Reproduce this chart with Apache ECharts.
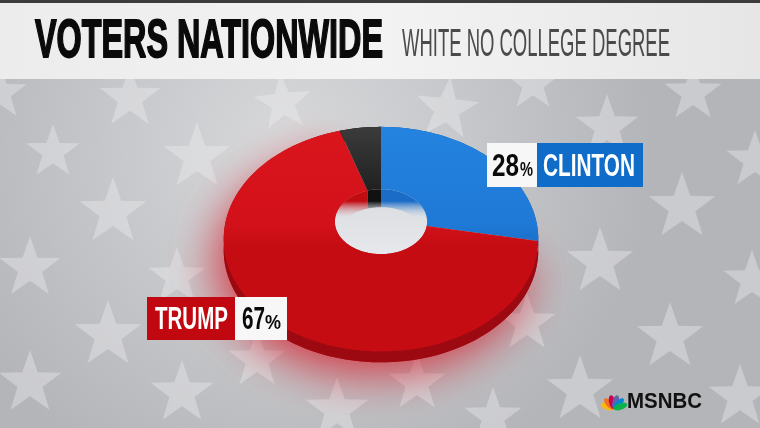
<!DOCTYPE html>
<html>
<head>
<meta charset="utf-8">
<script src="https://cdn.jsdelivr.net/npm/echarts@6.0.0/dist/echarts.min.js"></script>
<style>
html,body{margin:0;padding:0;background:#c6c7ca;}
#chart{width:760px;height:428px;}
</style>
</head>
<body>
<div id="chart"></div>
<script>
// ---- data ----
const candidates = ['CLINTON', 'TRUMP', 'OTHER'];
const shares = [28, 67, 5];
const titleText = 'VOTERS NATIONWIDE';
const subtitleText = 'WHITE NO COLLEGE DEGREE';

// ---- geometry / style (not data) ----
const CX = 381, CY = 220, RX = 155, RY = 109, K = 0.17, INNER = 0.297, H = 11, HW = 18;
const topFill = {
  CLINTON: ['#2383de', '#1f79d6', '#1b6fc8'],
  TRUMP: ['#da151c', '#d3111a', '#c50c12'],
  OTHER: ['#3a3a3a', '#121212', '#0b0b0b']
};
const sideFill = { CLINTON: '#1657a2', TRUMP: '#9c0910', OTHER: '#000000' };
const wallFill = { CLINTON: '#1b6cc6', TRUMP: '#c10c12', OTHER: '#111111' };

function pt(theta, r, dy) {
  const t = theta * Math.PI / 180;
  const u = r * Math.sin(t), v = -r * Math.cos(t);
  const s = 1 / (1 - K * v);
  return [CX + RX * u * s, CY + RY * v * s + (dy || 0)];
}
function arc(a0, a1, r, dy) {
  const n = Math.max(6, Math.ceil(Math.abs(a1 - a0) / 2));
  const out = [];
  for (let i = 0; i <= n; i++) out.push(pt(a0 + (a1 - a0) * i / n, r, dy));
  return out;
}
const total = shares.reduce((a, b) => a + b, 0);
const cum = [];
shares.reduce((acc, v, i) => { cum[i] = acc; return acc + v; }, 0);

function renderItem(params, api) {
  const i = params.dataIndex;
  const name = candidates[i];
  const a0 = cum[i] / total * 360;
  const a1 = (cum[i] + api.value(0)) / total * 360;
  const children = [];
  if (name === 'TRUMP') {
    children.push({
      type: 'polygon', z2: 0,
      shape: { points: arc(a0, a1, 1, H).concat(arc(a1, a0, INNER, 0)) },
      style: { fill: '#c80c14', shadowBlur: 46, shadowColor: 'rgba(215,10,25,0.75)', shadowOffsetX: -8, shadowOffsetY: 12 }
    });
  }
  if (i === 0) {
    children.push({
      type: 'polygon', z2: 1,
      shape: { points: arc(0, 360, INNER, 0) },
      style: { fill: { type: 'linear', x: 0, y: 0, x2: 0, y2: 1, colorStops: [{ offset: 0, color: '#d9dbe0' }, { offset: 1, color: '#e6e8eb' }] } }
    });
  }
  const holeTop = CY - RY * INNER / (1 + K * INNER);
  children.push({
    type: 'polygon', z2: 2,
    shape: { points: arc(a0, a1, INNER, 0).concat(arc(a1, a0, INNER, HW)) },
    style: { fill: { type: 'linear', global: true, x: 0, y: holeTop, x2: 0, y2: holeTop + 30,
      colorStops: [{ offset: 0, color: wallFill[name] }, { offset: 0.4, color: wallFill[name] }, { offset: 1, color: 'rgba(230,232,236,0)' }] } }
  });
  children.push({
    type: 'polygon', z2: 3,
    shape: { points: arc(a0, a1, 1, 0).concat(arc(a1, a0, 1, H)) },
    style: { fill: sideFill[name] }
  });
  const tf = topFill[name];
  children.push({
    type: 'polygon', z2: 4,
    shape: { points: arc(a0, a1, 1, 0).concat(arc(a1, a0, INNER, 0)) },
    style: { fill: { type: 'linear', global: true, x: 0, y: 130, x2: 0, y2: 340,
      colorStops: [{ offset: 0, color: tf[0] }, { offset: 0.45, color: tf[1] }, { offset: 0.55, color: tf[2] }, { offset: 1, color: tf[2] }] } }
  });
  return { type: 'group', children: children };
}

// ---- helpers for decoration ----
function starPts(cx, cy, r, rot) {
  const p = [];
  for (let k = 0; k < 10; k++) {
    const rr = k % 2 === 0 ? r : r * 0.4;
    const a = (rot - 90 + k * 36) * Math.PI / 180;
    p.push([cx + rr * Math.cos(a), cy + rr * Math.sin(a)]);
  }
  return p;
}
const ctx = document.createElement('canvas').getContext('2d');
function fitScale(text, font, width) { ctx.font = font; return width / ctx.measureText(text).width; }

const starList = [
  [130,98,32,0],[283,103,30,-6],[447,109,33,6],[533,84,28,0],[693,93,30,0],[0,93,28,0],
  [53,152,28,0],[197,157,35,0],[607,127,33,0],[755,160,30,0],[113,212,35,0],[682,207,35,0],
  [30,268,32,0],[177,277,30,0],[600,262,35,0],[752,280,30,0],[108,335,35,0],[527,323,30,0],
  [670,337,35,0],[30,383,33,0],[182,393,33,0],[580,390,35,0],[740,397,33,0],[257,360,30,0],
  [337,410,33,0],[417,383,30,0],[493,417,30,0]
];

const elements = [];
elements.push({ type: 'rect', z: 0, z2: 0, shape: { x: 0, y: 0, width: 760, height: 428 },
  style: { fill: { type: 'radial', x: 0.38, y: 0.35, r: 0.85, colorStops: [{ offset: 0, color: '#d8d9db' }, { offset: 1, color: '#b4b5b9' }] } }, silent: true });
starList.forEach(s => elements.push({ type: 'polygon', z: 0, z2: 1, silent: true,
  shape: { points: starPts(s[0], s[1], s[2], s[3]) }, style: { fill: 'rgba(238,239,241,0.38)' } }));
// title bar
elements.push({ type: 'rect', z: 5, silent: true, shape: { x: 0, y: 0, width: 760, height: 79 },
  style: { fill: { type: 'linear', x: 0, y: 0, x2: 1, y2: 0, colorStops: [{ offset: 0, color: '#ececec' }, { offset: 0.5, color: '#f3f3f3' }, { offset: 1, color: '#e6e6e6' }] } } });
elements.push({ type: 'rect', z: 5, z2: 1, silent: true, shape: { x: 0, y: 0, width: 760, height: 3 }, style: { fill: '#3c3c3c' } });
const tFont = 'bold 53px "Liberation Sans"';
elements.push({ type: 'text', z: 6, silent: true, x: 35, y: 42, scaleX: fitScale(titleText, tFont, 348),
  style: { text: titleText, font: tFont, fill: '#0a0a0a', stroke: '#0a0a0a', lineWidth: 1.8, textAlign: 'left', textVerticalAlign: 'middle' } });
const sFont = '38px "Liberation Sans"';
elements.push({ type: 'text', z: 6, silent: true, x: 402, y: 46, scaleX: fitScale(subtitleText, sFont, 268),
  style: { text: subtitleText, font: sFont, fill: '#4a4a4a', textAlign: 'left', textVerticalAlign: 'middle' } });

// labels
const lFont = 'bold 31px "Liberation Sans"';
const pFont = 'bold 21px "Liberation Sans"';
function label(boxes, texts) {
  boxes.forEach(b => elements.push({ type: 'rect', z: 8, silent: true, shape: { x: b[0], y: b[1], width: b[2], height: b[3] }, style: { fill: b[4] } }));
  texts.forEach(t => elements.push({ type: 'text', z: 9, silent: true, x: t[1], y: t[2], scaleX: fitScale(t[0], t[4], t[3]),
    style: { text: t[0], font: t[4], fill: t[5], textAlign: 'left', textVerticalAlign: 'middle' } }));
}
label([[487,143,50,44,'#f7f7f7'],[537,143,106,44,'#0f6dc9']],
  [[String(shares[0]),492,167,27,lFont,'#0a0a0a'],['%',520,170,13,pFont,'#0a0a0a'],[candidates[0],543,167,92,lFont,'#ffffff']]);
label([[147,297,88,43,'#c1070f'],[235,297,52,43,'#f7f7f7']],
  [[candidates[1],155,320,73,lFont,'#ffffff'],[String(shares[1]),242,320,23,lFont,'#0a0a0a'],['%',265,323,16,pFont,'#0a0a0a']]);

// MSNBC logo
const feathers = ['#fcb711','#f37021','#cc004c','#6460aa','#0089d0','#0db14b'];
feathers.forEach((c, k) => {
  const ang = -70 + k * 28;
  const a = ang * Math.PI / 180;
  elements.push({ type: 'ellipse', z: 8, silent: true, x: 614 + 7 * Math.sin(a), y: 409 - 7 * Math.cos(a), rotation: -a,
    shape: { cx: 0, cy: 0, rx: 3.2, ry: 7 }, style: { fill: c } });
});
const mFont = 'bold 22px "Liberation Sans"';
elements.push({ type: 'text', z: 8, silent: true, x: 627, y: 402, scaleX: fitScale('MSNBC', mFont, 75),
  style: { text: 'MSNBC', font: mFont, fill: '#111111', textAlign: 'left', textVerticalAlign: 'middle' } });

const chart = echarts.init(document.getElementById('chart'));
chart.setOption({
  animation: false,
  graphic: { elements: elements },
  series: [{
    type: 'custom', coordinateSystem: 'none', silent: true, z: 2,
    renderItem: renderItem,
    data: shares.map((v, i) => ({ name: candidates[i], value: [v] }))
  }]
});
</script>
</body>
</html>
